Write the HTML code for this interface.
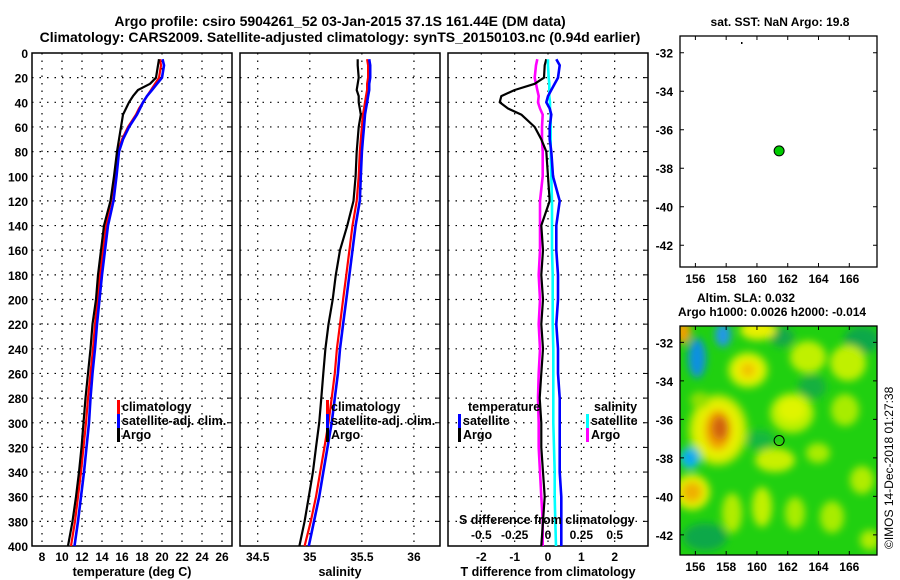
<!DOCTYPE html>
<html><head><meta charset="utf-8"><style>
html,body{margin:0;padding:0;background:#fff;}
svg{display:block;font-family:"Liberation Sans",sans-serif;font-weight:bold;}
</style></head><body>
<svg id="s" width="900" height="580" viewBox="0 0 900 580">
<defs>
<filter id="bl" x="-50%" y="-50%" width="200%" height="200%"><feGaussianBlur stdDeviation="4"/></filter>
<clipPath id="mapclip"><rect x="680" y="326" width="197" height="229"/></clipPath>
</defs>
<text x="340" y="26" font-size="14" text-anchor="middle">Argo profile: csiro 5904261_52 03-Jan-2015 37.1S 161.44E (DM data)</text>
<text x="340" y="42" font-size="14" text-anchor="middle">Climatology: CARS2009. Satellite-adjusted climatology: synTS_20150103.nc (0.94d earlier)</text>
<g id="g"></g>
</svg>
<script>
const depths=[5,10,20,25,30,35,40,45,50,60,70,80,100,120,140,160,180,200,220,240,260,280,300,320,340,360,380,400];
const tempClim=[19.8,19.9,19.7,19.3,18.9,18.5,18.1,17.7,17.4,16.6,16.0,15.6,15.3,14.9,14.4,14.1,13.8,13.55,13.3,13.1,12.85,12.6,12.4,12.15,11.9,11.6,11.3,10.9];
const tempSat=[20.05,20.2,20.0,19.5,19.0,18.5,18.1,17.8,17.5,16.7,16.1,15.7,15.45,15.15,14.6,14.3,14.0,13.75,13.5,13.3,13.05,12.85,12.7,12.45,12.2,11.9,11.6,11.25];
const tempArgo=[19.7,19.6,19.4,18.8,17.6,17.1,16.7,16.4,16.1,15.9,15.7,15.5,15.2,14.85,14.2,13.9,13.6,13.4,13.05,12.85,12.6,12.35,12.15,11.95,11.7,11.4,11.05,10.6];
const salClim=[35.55,35.56,35.56,35.55,35.55,35.54,35.53,35.52,35.51,35.5,35.49,35.48,35.47,35.45,35.41,35.38,35.35,35.32,35.29,35.26,35.24,35.21,35.18,35.14,35.1,35.06,35.01,34.95];
const salSat=[35.57,35.58,35.58,35.57,35.57,35.56,35.55,35.54,35.53,35.52,35.51,35.5,35.49,35.48,35.44,35.41,35.38,35.35,35.32,35.29,35.27,35.24,35.21,35.17,35.13,35.09,35.04,34.99];
const salArgo=[35.46,35.46,35.47,35.46,35.45,35.47,35.47,35.48,35.49,35.47,35.46,35.45,35.44,35.42,35.36,35.29,35.25,35.22,35.18,35.15,35.13,35.11,35.09,35.06,35.03,34.99,34.95,34.9];
const dTArgo=[-0.05,-0.1,-0.12,-0.4,-1.0,-1.4,-1.45,-1.2,-0.8,-0.4,-0.2,-0.05,0.0,0.05,-0.2,-0.15,-0.2,-0.15,-0.2,-0.15,-0.2,-0.25,-0.2,-0.2,-0.15,-0.1,-0.15,-0.2];
const dTSat=[0.25,0.35,0.3,0.2,0.1,0.0,-0.05,0.05,0.1,0.05,0.05,0.1,0.15,0.35,0.25,0.25,0.3,0.3,0.25,0.3,0.3,0.35,0.35,0.35,0.35,0.4,0.4,0.4];
const dSSat=[0,0,0.005,0.01,0.01,0.01,0.015,0.015,0.02,0.02,0.02,0.02,0.025,0.03,0.03,0.03,0.035,0.035,0.035,0.04,0.04,0.04,0.04,0.045,0.05,0.05,0.055,0.06];
const dSArgo=[-0.08,-0.09,-0.1,-0.09,-0.08,-0.07,-0.075,-0.06,-0.04,-0.045,-0.045,-0.04,-0.04,-0.06,-0.06,-0.06,-0.07,-0.06,-0.07,-0.06,-0.07,-0.075,-0.07,-0.07,-0.06,-0.05,-0.04,-0.04];
const depthTicks=[0,20,40,60,80,100,120,140,160,180,200,220,240,260,280,300,320,340,360,380,400];
const tempTicks=[8,10,12,14,16,18,20,22,24,26];
const salTicks=[34.5,35,35.5,36];
const dTTicks=[-2,-1,0,1,2];
const dSTickLabels=["-0.5","-0.25","0","0.25","0.5"];
const dSTicks=[-0.5,-0.25,0,0.25,0.5];
const latTicks=[-32,-34,-36,-38,-40,-42];
const lonTicks=[156,158,160,162,164,166];
const argoLon=161.44, argoLat=-37.1;

const NS="http://www.w3.org/2000/svg";
const G=document.getElementById('g');
function el(t,a,p){const e=document.createElementNS(NS,t);for(const k in a)e.setAttribute(k,a[k]);(p||G).appendChild(e);return e;}
const Y0=53,Y1=546;
const yD=d=>Y0+(d/400)*(Y1-Y0);
function lin(d0,d1,r0,r1){return v=>r0+(v-d0)/(d1-d0)*(r1-r0);}
const xT=lin(7,27,32,232), xS=lin(34.33,36.25,240,440), xDT=lin(-3,3,448,648), xDS=lin(-0.75,0.75,448,648);

function panel(name,x0,ticks,xf,labels,title){
  const r=el('rect',{x:x0,y:Y0,width:200,height:Y1-Y0,fill:'none',stroke:'#000','stroke-width':1.5});
  
  depthTicks.forEach(d=>{if(d>0&&d<400){const l=el('line',{x1:x0,x2:x0+200,y1:yD(d),y2:yD(d),stroke:'#000','stroke-dasharray':'1.5,6','stroke-width':1.2});
    el('line',{x1:x0+196,x2:x0+200,y1:yD(d),y2:yD(d),stroke:'#000'});}});
  ticks.forEach((t,i)=>{const x=xf(t);const l=el('line',{x1:x,x2:x,y1:Y0,y2:Y1,stroke:'#000','stroke-dasharray':'1.5,6','stroke-width':1.2});
    if(labels){const tx=el('text',{x:x,y:561,'font-size':12,'text-anchor':'middle'});tx.textContent=labels[i];}});
  const tt=el('text',{x:x0+100,y:576,'font-size':12.5,'text-anchor':'middle'});tt.textContent=title;
}
panel('temperature-panel',32,tempTicks,xT,tempTicks.map(String),'temperature (deg C)');
panel('salinity-panel',240,salTicks,xS,salTicks.map(String),'salinity');
panel('difference-panel',448,dTTicks,xDT,dTTicks.map(String),'T difference from climatology');
depthTicks.forEach(d=>{const t=el('text',{x:28,y:yD(d)+5,'font-size':12,'text-anchor':'end'});t.textContent=d;});

function series(name,vals,xf,color,w){
  const pts=depths.map((d,i)=>xf(vals[i]).toFixed(1)+','+yD(d).toFixed(1)).join(' ');
  const p=el('polyline',{points:pts,fill:'none',stroke:color,'stroke-width':w||2.2,'stroke-linejoin':'round'});
  
}
series('temp-climatology-line',tempClim,xT,'#f00');
series('temp-satellite-line',tempSat,xT,'#00f',2.6);
series('temp-argo-line',tempArgo,xT,'#000');
series('sal-climatology-line',salClim,xS,'#f00');
series('sal-satellite-line',salSat,xS,'#00f',2.6);
series('sal-argo-line',salArgo,xS,'#000');
series('sdiff-argo-line',dSArgo,xDS,'#f0f',2.6);
series('tdiff-argo-line',dTArgo,xDT,'#000');
series('sdiff-satellite-line',dSSat,xDS,'#0ff',2.6);
series('tdiff-satellite-line',dTSat,xDT,'#00f',2.6);

function legend(name,x,y,color,label){
  if(color){const m=el('rect',{x:x,y:y-11,width:3,height:14,fill:color});}
  const t=el('text',{x:x+(color?5:0),y:y,'font-size':12.5});t.textContent=label;
}
[['climatology','#f00'],['satellite-adj. clim.','#00f'],['Argo','#000']].forEach((e,i)=>{
  legend('temp-legend-entry',117,411+i*14,e[1],e[0]);
  legend('sal-legend-entry',326,411+i*14,e[1],e[0]);
});
legend('tdiff-legend-title',468,411,null,'temperature');
legend('tdiff-legend-entry',458,425,'#00f','satellite');
legend('tdiff-legend-entry',458,439,'#000','Argo');
legend('sdiff-legend-title',594,411,null,'salinity');
legend('sdiff-legend-entry',586,425,'#0ff','satellite');
legend('sdiff-legend-entry',586,439,'#f0f','Argo');
legend('sdiff-axis-title',459,524,null,'S difference from climatology');
dSTicks.forEach((v,i)=>{const t=el('text',{x:xDS(v),y:539,'font-size':12,'text-anchor':'middle'});t.textContent=dSTickLabels[i];});

// maps
const mx0=680,mx1=877;
const lonX=lin(155,167.8,mx0,mx1);
function mapAxes(name,ytop,ybot,lat0){
  const latY=lin(lat0,lat0-((ybot-ytop)/19.25),ytop,ybot);
  const r=el('rect',{x:mx0,y:ytop,width:mx1-mx0,height:ybot-ytop,fill:'none',stroke:'#000','stroke-width':1.3});
  
  latTicks.forEach(l=>{const y=latY(l);el('line',{x1:mx0,x2:mx0+4,y1:y,y2:y,stroke:'#000'});el('line',{x1:mx1-4,x2:mx1,y1:y,y2:y,stroke:'#000'});
    const t=el('text',{x:673,y:y+5,'font-size':12,'text-anchor':'end'});t.textContent=l;});
  lonTicks.forEach(l=>{const x=lonX(l);el('line',{x1:x,x2:x,y1:ytop,y2:ytop+4,stroke:'#000'});el('line',{x1:x,x2:x,y1:ybot-4,y2:ybot,stroke:'#000'});
    const t=el('text',{x:x,y:ybot+16,'font-size':12,'text-anchor':'middle'});t.textContent=l;});
  return latY;
}
const mg=el('g',{'clip-path':'url(#mapclip)'});

el('rect',{x:680,y:326,width:197,height:229,fill:'#20d010'},mg);
const bg=el('g',{filter:'url(#bl)'},mg);
const blobs=[
 [862,340,18,14,'#10a848'],[705,537,22,14,'#10a848'],[812,387,14,12,'#14b040'],[782,337,12,10,'#14a848'],[760,440,14,10,'#18b840'],
 [718,430,30,36,'#a8e800'],[718,430,24,30,'#e8f000'],[748,370,20,18,'#c0f000'],[748,370,14,12,'#f0f000'],[758,330,18,10,'#e8f000'],
 [792,413,22,20,'#b8f000'],[792,410,14,12,'#e0f400'],[808,357,18,16,'#c0f000'],[848,363,18,18,'#c0f000'],[775,460,20,12,'#c8f000'],
 [845,410,14,16,'#a8ec00'],[762,507,10,20,'#c0f000'],[732,513,10,20,'#b0ec00'],[862,480,12,14,'#b0ec00'],[832,517,12,16,'#a8ec00'],
 [795,513,10,16,'#a8ec00'],[818,453,12,10,'#a8ec00'],[870,540,10,10,'#b0ec00'],[700,400,10,8,'#90e000'],
 [692,492,18,18,'#e0f000'],[692,492,10,10,'#f0b000'],[683,332,8,12,'#f0a000'],
 [718,430,13,20,'#f0a000'],[720,428,8,12,'#d06010'],[748,370,7,7,'#f0c000'],
 [697,358,9,20,'#1090e0'],[723,335,8,12,'#2098e8'],[690,458,10,11,'#10c0e8'],[690,458,6,6,'#10a0f0']];
blobs.forEach(b=>el('ellipse',{cx:b[0],cy:b[1],rx:b[2],ry:b[3],fill:b[4]},bg));
const latSST=mapAxes('sst-map',36,267,-31.13);
const latSLA=mapAxes('sla-map',326,555,-31.15);
const d1=el('circle',{cx:lonX(argoLon),cy:latSST(argoLat),r:5,fill:'#0c0',stroke:'#000','stroke-width':1});

const d2=el('circle',{cx:lonX(argoLon),cy:latSLA(argoLat),r:5,fill:'none',stroke:'#000','stroke-width':1});

el('rect',{x:741,y:42,width:1.5,height:2,fill:'#000'});
function txt(name,x,y,s,str,anc){const t=el('text',{x:x,y:y,'font-size':s,'text-anchor':anc||'start'});t.textContent=str;return t;}
txt('sst-map-title',780,26,12,'sat. SST: NaN Argo: 19.8','middle');
txt('sla-map-title',697,302,12,'Altim. SLA: 0.032');
txt('sla-map-subtitle',678,316,12,'Argo h1000: 0.0026 h2000: -0.014');
const c=txt('copyright-label',0,0,12,'©IMOS 14-Dec-2018 01:27:38');
c.setAttribute('transform','translate(893,549) rotate(-90)');
c.setAttribute('font-weight','normal');
</script>
</body></html>
